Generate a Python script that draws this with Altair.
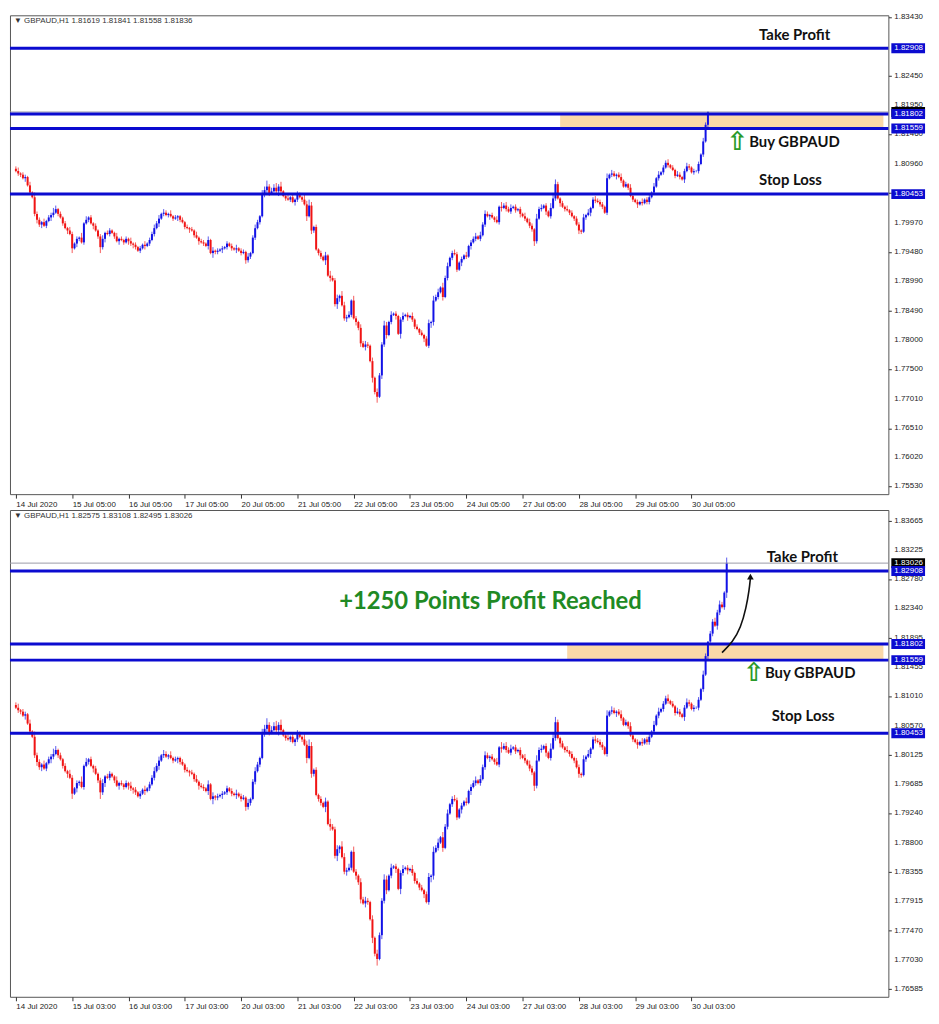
import altair as alt
import pandas as pd

# ---------------- data ----------------
BASE = 1.80000
PIP = 0.0001
FIRST_OPEN_PIPS = 88

# hourly closes, in pips relative to 1.80000
CLOSE_PIPS = [
    84, 80, 78, 72, 74, 60, 48, 40, 12, 2,
    -6, -2, -8, 0, 6, 10, 14, 20, 12, 6,
    -4, -12, -16, -22, -46, -38, -30, -28, -36, -4,
    2, 6, -4, -8, -16, -26, -44, -30, -20, -22,
    -16, -20, -26, -34, -30, -32, -36, -30, -34, -38,
    -40, -44, -50, -46, -40, -42, -38, -32, -22, -12,
    -4, 4, 12, 14, 10, 12, 8, 4, 6, 8,
    2, -2, -10, -12, -14, -16, -24, -28, -34, -36,
    -38, -42, -32, -54, -50, -52, -50, -48, -46, -44,
    -38, -42, -46, -48, -46, -50, -54, -52, -66, -60,
    -54, -28, -12, -2, 8, 44, 52, 58, 46, 50,
    56, 50, 58, 50, 42, 38, 36, 40, 32, 36,
    44, 40, 36, 28, 8, 26, -16, -10, -48, -54,
    -60, -66, -58, -92, -96, -100, -140, -130, -126, -142,
    -164, -162, -158, -134, -164, -170, -180, -206, -212, -208,
    -210, -236, -264, -288, -296, -260, -208, -176, -192, -170,
    -158, -156, -160, -190, -166, -160, -158, -162, -160, -166,
    -178, -182, -188, -192, -198, -210, -172, -170, -134, -128,
    -120, -112, -128, -96, -76, -62, -54, -56, -82, -70,
    -64, -58, -60, -42, -36, -30, -26, -30, -24, -6,
    12, 8, 10, 6, 2, -2, 24, 22, 26, 20,
    16, 22, 24, 18, 20, 12, 8, 4, -2, -8,
    -14, -34, 4, 20, 22, 26, 16, 8, 22, 38,
    62, 38, 30, 24, 20, 18, 14, 8, 4, -6,
    -16, -18, 6, 10, 14, 22, 36, 34, 32, 28,
    24, 14, 72, 78, 80, 76, 78, 74, 68, 58,
    62, 56, 42, 36, 32, 28, 32, 30, 36, 32,
    40, 48, 58, 72, 78, 82, 90, 98, 94, 90,
    86, 76, 78, 74, 70, 84, 92, 90, 82, 84,
    84, 96, 112, 134, 162, 184, 196, 214, 208, 228,
    240, 236, 258, 303,
]

# wick lengths, one digit per bar, in units of 2 pips
UP_WICK = ("2312213142" "2131224312" "1213212141" "3121212312" "2113121213"
           "1212131223" "2313213121" "1212121312" "2131312121" "2121312213"
           "1232143523" "3424123121" "3214353121" "2131422314" "3231421323"
           "2131322431" "3121231213" "1212123142" "3142312321" "2131223132"
           "3212131423" "2312121313" "2142312143" "4212131212" "2131312322"
           "2141321231" "2132121312" "2131312231" "2132123212" "1213202232"
           "3214")
DN_WICK = ("1221312123" "2312132121" "2131413212" "1213125231" "2121312132"
           "3212131212" "1312121213" "2121312131" "2131422131" "2121312132"
           "2121212321" "1342121213" "2121413212" "2141312431" "2312132313"
           "2142513231" "2131421312" "2121312431" "2131212121" "3121312121"
           "2131212312" "1212131212" "2421213121" "2131212121" "3212131212"
           "2121213121" "1212131212" "2121212121" "1212131212" "1212131213"
           "2124")

TOP_N = 296
BOT_N = 304

XTICKS = [0, 24, 48, 72, 96, 120, 144, 168, 192, 216, 240, 264, 288]
TOP_XLABELS = ["14 Jul 2020", "15 Jul 05:00", "16 Jul 05:00", "17 Jul 05:00",
               "20 Jul 05:00", "21 Jul 05:00", "22 Jul 05:00", "23 Jul 05:00",
               "24 Jul 05:00", "27 Jul 05:00", "28 Jul 05:00", "29 Jul 05:00",
               "30 Jul 05:00"]
BOT_XLABELS = ["14 Jul 2020", "15 Jul 03:00", "16 Jul 03:00", "17 Jul 03:00",
               "20 Jul 03:00", "21 Jul 03:00", "22 Jul 03:00", "23 Jul 03:00",
               "24 Jul 03:00", "27 Jul 03:00", "28 Jul 03:00", "29 Jul 03:00",
               "30 Jul 03:00"]

# price-scale ticks; the ones hidden under the level boxes carry no visible label
TOP_YTICKS = [1.83430, 1.82940, 1.82450, 1.81950, 1.81460, 1.80960, 1.80470,
              1.79970, 1.79480, 1.78990, 1.78490, 1.78000, 1.77500, 1.77010,
              1.76510, 1.76020, 1.75530]
TOP_YLABELS = [1.83430, 1.82450, 1.81950, 1.81460, 1.80960,
               1.79970, 1.79480, 1.78990, 1.78490, 1.78000, 1.77500, 1.77010,
               1.76510, 1.76020, 1.75530]
BOT_YTICKS = [1.83665, 1.83225, 1.82780, 1.82340, 1.81895, 1.81455, 1.81010,
              1.80570, 1.80125, 1.79685, 1.79240, 1.78800, 1.78355, 1.77915,
              1.77470, 1.77030, 1.76585]
BOT_YLABELS = BOT_YTICKS

TOP_HEADER = "▼ GBPAUD,H1  1.81619 1.81841 1.81558 1.81836"
BOT_HEADER = "▼ GBPAUD,H1  1.82575 1.83108 1.82495 1.83026"

TAKE_PROFIT = 1.82908
BUY_HIGH = 1.81802
BUY_LOW = 1.81559
STOP_LOSS = 1.80453
TOP_LAST = 1.81836
BOT_LAST = 1.83026

TOP_ZONE_START = 232
BOT_ZONE_START = 235

# annotation anchors (bar index, price)
TOP_NOTES = {"tp": (316.8, 1.8313), "arrow": (307.6, 1.81327), "buy": (312.6, 1.81327), "sl": (316.8, 1.80698)}
BOT_NOTES = {"tp": (320.1, 1.83115), "arrow": (314.7, 1.8136), "buy": (319.3, 1.8136), "sl": (322.2, 1.80706),
             "big": (202.3, 1.82431)}
PROFIT_TEXT = "+1250 Points Profit Reached"
CURVE_I = [301.0, 305.5, 309.0, 311.3, 312.6, 313.1]
CURVE_P = [1.81672, 1.81830, 1.82050, 1.82350, 1.82620, 1.82800]

# ---------------- styling ----------------
W = 886
XDOM = [-0.4, 369.8]
BLUE = "#0b0bd0"
BULL = "#1212e6"
BEAR = "#f01414"
ZONE = "#fad8a8"
GREEN = "#1f8a24"
AXFONT = "Liberation Sans"


def candle_frame(n):
    rows = []
    prev = FIRST_OPEN_PIPS
    for i in range(n):
        c = CLOSE_PIPS[i]
        o = prev
        up = int(UP_WICK[i]) * 2 if i < len(UP_WICK) else 2
        dn = int(DN_WICK[i]) * 2 if i < len(DN_WICK) else 2
        rows.append(dict(i=i,
                         o=round(BASE + o * PIP, 5), c=round(BASE + c * PIP, 5),
                         h=round(BASE + (max(o, c) + up) * PIP, 5),
                         l=round(BASE + (min(o, c) - dn) * PIP, 5),
                         bull=bool(c >= o)))
        prev = c
    return pd.DataFrame(rows)


def panel(n, height, ydom, yticks, ylabels, xlabels, header, last, zone_start, notes,
          extra=False, show_last_text=True):
    xs = alt.Scale(domain=XDOM, nice=False, zero=False)
    ys = alt.Scale(domain=ydom, nice=False, zero=False)
    df = candle_frame(n)
    color = alt.condition("datum.bull", alt.value(BULL), alt.value(BEAR))
    label_js = "[" + ",".join("'%s'" % s for s in xlabels) + "][round(datum.value/24)]"

    xaxis = alt.Axis(values=XTICKS, labelExpr=label_js, labelAlign="left", labelPadding=2,
                     tickSize=4, tickColor="#333", labelFontSize=8, labelFont=AXFONT,
                     labelColor="#222", grid=False, domain=False, labelOverlap=False,
                     labelFlush=False, title=None)
    yaxis = alt.Axis(orient="right", values=yticks, labels=False, tickSize=3, tickColor="#333",
                     grid=False, domain=False, title=None)

    zone = alt.Chart(pd.DataFrame([{"x": zone_start, "x2": XDOM[1], "y": BUY_LOW, "y2": BUY_HIGH}])).mark_rect(
        color=ZONE).encode(
        x=alt.X("x:Q", scale=xs, axis=xaxis), x2="x2:Q",
        y=alt.Y("y:Q", scale=ys, axis=yaxis), y2="y2:Q")

    wicks = alt.Chart(df).mark_rule(strokeWidth=1, opacity=0.7).encode(
        x=alt.X("i:Q", scale=xs), y=alt.Y("l:Q", scale=ys), y2="h:Q", color=color)

    bodies = alt.Chart(df).mark_bar(size=2).encode(
        x=alt.X("i:Q", scale=xs), y=alt.Y("o:Q", scale=ys), y2="c:Q", color=color)

    last_line = alt.Chart(pd.DataFrame([{"y": last}])).mark_rule(color="#9a9aa8", strokeWidth=1).encode(
        y=alt.Y("y:Q", scale=ys))

    levels = alt.Chart(pd.DataFrame([{"y": v} for v in [TAKE_PROFIT, BUY_HIGH, BUY_LOW, STOP_LOSS]])).mark_rule(
        color=BLUE, strokeWidth=3).encode(y=alt.Y("y:Q", scale=ys))

    def note(text, key, size=15, color="#111", font="Lato", align="left", weight="bold"):
        x, y = notes[key]
        return alt.Chart(pd.DataFrame([{"x": x, "y": y, "t": text}])).mark_text(
            align=align, baseline="middle", fontSize=size, font=font, fontWeight=weight, color=color).encode(
            x=alt.X("x:Q", scale=xs), y=alt.Y("y:Q", scale=ys), text="t:N")

    layers = [zone, wicks, bodies, last_line, levels,
              note("Take Profit", "tp"), note("Buy GBPAUD", "buy"), note("Stop Loss", "sl"),
              note("⇧", "arrow", size=26, color="#2a9a2a", font="DejaVu Sans", align="center", weight="bold")]

    if extra:
        layers.append(note(PROFIT_TEXT, "big", size=24, color=GREEN, align="center"))
        curve = alt.Chart(pd.DataFrame({"x": CURVE_I, "y": CURVE_P})).mark_line(
            color="#111", strokeWidth=1.6, interpolate="basis").encode(
            x=alt.X("x:Q", scale=xs), y=alt.Y("y:Q", scale=ys))
        head = alt.Chart(pd.DataFrame([{"x": CURVE_I[-1], "y": CURVE_P[-1] + 0.0002}])).mark_point(
            shape="triangle-up", filled=True, color="#111", size=45, opacity=1).encode(
            x=alt.X("x:Q", scale=xs), y=alt.Y("y:Q", scale=ys))
        layers += [curve, head]

    # price-scale labels
    ylab = alt.Chart(pd.DataFrame({"y": ylabels, "t": ["%.5f" % v for v in ylabels]})).mark_text(
        align="left", baseline="middle", fontSize=8, font=AXFONT, color="#222").encode(
        x=alt.value(W + 6), y=alt.Y("y:Q", scale=ys), text="t:N")

    # price boxes on the right scale
    boxes = [{"y": last, "t": "%.5f" % last if show_last_text else "", "c": "#000000"}] + \
            [{"y": v, "t": "%.5f" % v, "c": BLUE} for v in [TAKE_PROFIT, BUY_HIGH, BUY_LOW, STOP_LOSS]]
    bdf = pd.DataFrame(boxes)
    box = alt.Chart(bdf).mark_rule(strokeWidth=10).encode(
        x=alt.value(W + 3), x2=alt.value(W + 37), y=alt.Y("y:Q", scale=ys),
        color=alt.Color("c:N", scale=None))
    box_txt = alt.Chart(bdf).mark_text(align="left", baseline="middle", fontSize=8, font=AXFONT,
                                       color="white").encode(
        x=alt.value(W + 6), y=alt.Y("y:Q", scale=ys), text="t:N")
    hdr = alt.Chart(pd.DataFrame([{"t": header}])).mark_text(
        align="left", baseline="top", fontSize=8, font=AXFONT, color="#333").encode(
        x=alt.value(4), y=alt.value(2), text="t:N")
    layers += [ylab, box, box_txt, hdr]

    return alt.layer(*layers).properties(width=W, height=height)


top = panel(TOP_N, 483, [1.75400, 1.83464], TOP_YTICKS, TOP_YLABELS, TOP_XLABELS, TOP_HEADER, TOP_LAST,
            TOP_ZONE_START, TOP_NOTES, show_last_text=False)
bottom = panel(BOT_N, 491, [1.76468, 1.83829], BOT_YTICKS, BOT_YLABELS, BOT_XLABELS, BOT_HEADER, BOT_LAST,
               BOT_ZONE_START, BOT_NOTES, extra=True)

chart = alt.vconcat(top, bottom, spacing=0).properties(
    padding={"left": 0, "top": 0, "right": 0, "bottom": 0}, background="white"
).configure_view(stroke="#555555", strokeWidth=1)

chart.save("out.html", embed_options={"renderer": "svg", "actions": False})
